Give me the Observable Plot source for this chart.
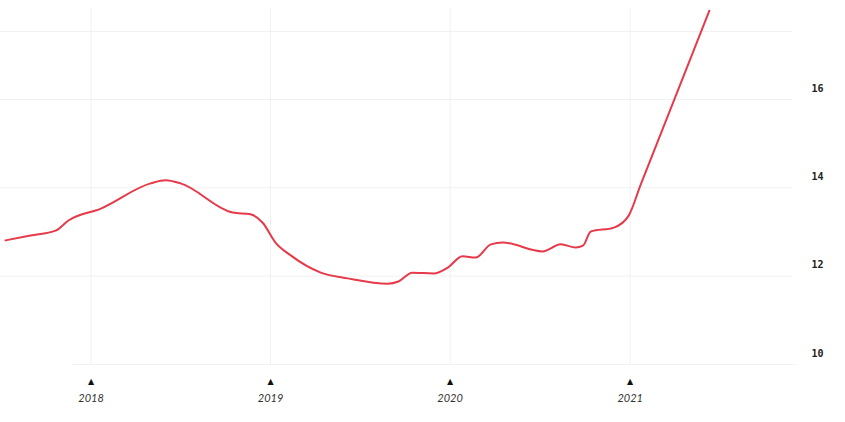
<!DOCTYPE html>
<html>
<head>
<meta charset="utf-8">
<script src="https://cdn.jsdelivr.net/npm/d3@7"></script>
<script src="https://cdn.jsdelivr.net/npm/@observablehq/plot@0.6"></script>
<style>
  html, body { margin: 0; padding: 0; background: #fff; }
  #chart svg { display: block; }
</style>
</head>
<body>
<div id="chart"></div>
<script>
// Data
const dates = [
  "2017-07-11","2017-08-31","2017-10-21","2017-11-16","2018-01-21","2018-05-02","2018-06-02",
  "2018-07-02","2018-10-16","2018-11-21","2018-12-16","2019-01-11","2019-02-11",
  "2019-04-13","2019-06-07","2019-08-27","2019-09-18","2019-10-16","2019-11-28",
  "2019-12-28","2020-01-26","2020-02-22","2020-03-24","2020-04-17","2020-07-07",
  "2020-08-13","2020-09-12","2020-09-27","2020-10-13","2020-11-29","2020-12-29",
  "2021-01-22","2021-05-18","2021-06-11"
];
const values = [
  12.81, 12.92, 13.03, 13.26, 13.53, 14.10, 14.17,
  14.10, 13.44, 13.40, 13.21, 12.76, 12.47,
  12.08, 11.95, 11.83, 11.88, 12.08, 12.06,
  12.20, 12.45, 12.42, 12.72, 12.76, 12.56,
  12.72, 12.65, 12.69, 13.01, 13.10, 13.37,
  14.06, 17.33, 18.01
];
const yTicks = [10, 12, 14, 16];
const yGridExtra = [17.54];
const xTickLabels = ["2018", "2019", "2020", "2021"];
const xTickDates = ["2018-01-01", "2019-01-01", "2020-01-01", "2021-01-01"];

const data = dates.map((d, i) => ({date: new Date(d), value: values[i]}));
const xTicks = xTickDates.map((d, i) => ({date: new Date(d), label: xTickLabels[i]}));

const grid = "#f1f1f1";

const chart = Plot.plot({
  width: 845,
  height: 422,
  marginTop: 8,
  marginBottom: 58,
  marginLeft: 0,
  marginRight: 53,
  style: {background: "#fff"},
  x: {type: "utc", domain: [new Date("2017-07-01"), new Date("2021-11-27")], axis: null},
  y: {domain: [10, 18.06], axis: null},
  marks: [
    Plot.ruleX(xTicks, {x: "date", stroke: grid, strokeWidth: 1}),
    Plot.ruleY(yTicks.slice(1).concat(yGridExtra), {y: d => d, stroke: grid, strokeWidth: 1}),
    Plot.ruleY([yTicks[0]], {y: d => d, x1: () => new Date("2017-11-26"), x2: () => new Date("2021-12-04"), stroke: grid, strokeWidth: 1}),
    Plot.line(data, {x: "date", y: "value", stroke: "#e63a4a", strokeWidth: 2, curve: "monotone-x"}),
    Plot.text(yTicks, {
      y: d => d, text: d => String(d), frameAnchor: "right", textAnchor: "start",
      dx: 19, dy: -11, fontWeight: "bold", fontSize: 10,
      fontFamily: "DejaVu Sans Mono, monospace", fill: "#222"
    }),
    Plot.text(xTicks, {
      x: "date", text: () => "▲", frameAnchor: "bottom", dy: 19,
      fontSize: 8, fill: "#111", fontFamily: "DejaVu Sans"
    }),
    Plot.text(xTicks, {
      x: "date", text: "label", frameAnchor: "bottom", dy: 37,
      fontSize: 11, fontStyle: "italic", fill: "#333", fontFamily: "Lato, sans-serif"
    })
  ]
});
document.getElementById("chart").appendChild(chart);
</script>
</body>
</html>
